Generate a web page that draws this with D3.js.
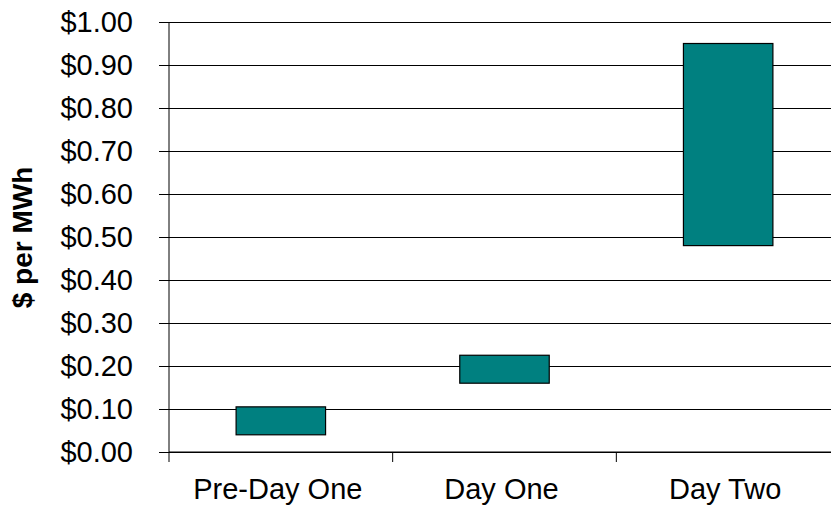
<!DOCTYPE html>
<html>
<head>
<meta charset="utf-8">
<script src="https://cdn.jsdelivr.net/npm/d3@7"></script>
<style>
  html, body { margin: 0; padding: 0; background: #fff; }
  svg { display: block; font-family: "Liberation Sans", Arial, sans-serif; }
</style>
</head>
<body>
<svg id="chart" width="831" height="513"></svg>
<script>
// Price ranges per period ($ per MWh)
const categories = ["Pre-Day One", "Day One", "Day Two"];
const lowValues  = [0.04, 0.16, 0.48];
const highValues = [0.105, 0.225, 0.95];
const yTicks = [0, 0.1, 0.2, 0.3, 0.4, 0.5, 0.6, 0.7, 0.8, 0.9, 1.0];

const svg = d3.select("#chart");
const plotLeft = 169, plotRight = 840, plotTop = 22, plotBottom = 452;
const labelSize = 29;

const x = d3.scaleBand().domain(categories).range([plotLeft, plotRight]).padding(0);
const y = d3.scaleLinear().domain([0, 1]).range([plotBottom, plotTop]);
const fmt = d => "$" + d3.format(".2f")(d);

// Horizontal gridlines with outward tick marks
const yAxis = svg.append("g")
  .attr("transform", `translate(${plotLeft},0)`)
  .call(d3.axisLeft(y).tickValues(yTicks).tickFormat(fmt)
    .tickSize(10).tickPadding(26));
yAxis.select(".domain").remove();
yAxis.selectAll(".tick line").attr("stroke", "#000").attr("stroke-width", 1);
yAxis.selectAll(".tick").append("line")
  .attr("x1", 0).attr("x2", plotRight - plotLeft)
  .attr("stroke", "#000").attr("stroke-width", 1);
yAxis.selectAll(".tick text")
  .attr("font-size", labelSize).attr("fill", "#000")
  .attr("font-family", "'Liberation Sans', Arial, sans-serif");

// Vertical axis line
svg.append("line")
  .attr("x1", plotLeft).attr("x2", plotLeft)
  .attr("y1", y(1)).attr("y2", plotBottom + 10)
  .attr("stroke", "#000").attr("stroke-width", 1);

// Category axis: ticks at band boundaries
const edges = categories.map(c => x(c)).concat([x(categories[categories.length - 1]) + x.bandwidth()]);
const xAxis = svg.append("g").attr("transform", `translate(0,${plotBottom})`);
xAxis.append("line")
  .attr("x1", plotLeft).attr("x2", plotRight)
  .attr("stroke", "#000").attr("stroke-width", 1);
xAxis.selectAll("line.edge").data(edges.slice(1)).join("line")
  .attr("class", "edge")
  .attr("x1", d => d).attr("x2", d => d)
  .attr("y1", 0).attr("y2", 10)
  .attr("stroke", "#000").attr("stroke-width", 1);
xAxis.selectAll("text").data(categories).join("text")
  .attr("x", d => x(d) + x.bandwidth() / 2 - 3)
  .attr("y", 47)
  .attr("text-anchor", "middle")
  .attr("font-size", labelSize)
  .attr("fill", "#000")
  .text(d => d);

// Floating range bars
const barFrac = 0.4;
svg.append("g").selectAll("rect").data(categories).join("rect")
  .attr("x", d => x(d) + x.bandwidth() * (1 - barFrac) / 2)
  .attr("width", x.bandwidth() * barFrac)
  .attr("y", (d, i) => y(highValues[i]))
  .attr("height", (d, i) => y(lowValues[i]) - y(highValues[i]))
  .attr("fill", "#008080")
  .attr("stroke", "#000")
  .attr("stroke-width", 1.2);

// Y axis title
svg.append("text")
  .attr("transform", `translate(32,${(162 + 313) / 2}) rotate(-90)`)
  .attr("text-anchor", "middle")
  .attr("font-size", 28)
  .attr("font-weight", "bold")
  .attr("fill", "#000")
  .text("$ per MWh");
</script>
</body>
</html>
